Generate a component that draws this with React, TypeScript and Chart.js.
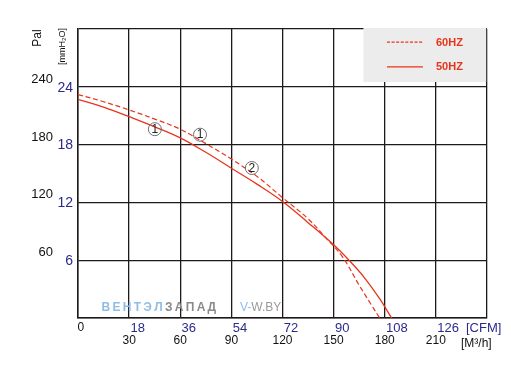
import React, { useEffect, useRef } from "react";
import { Chart, registerables } from "chart.js";

Chart.register(...registerables);

// 50 Hz curve (solid) : airflow m3/h -> pressure Pa
const Q50 = [0, 15, 30, 45, 60, 75, 90, 105, 120, 135, 150, 159, 168, 177, 184];
const P50 = [227, 219, 209, 198.5, 187, 172, 155.5, 139, 121, 99, 76, 60, 42, 20, 0];
// 60 Hz curve (dashed)
const Q60 = [0, 15, 30, 45, 60, 75, 90, 105, 120, 135, 145, 155, 165, 172, 177];
const P60 = [232, 224.5, 216, 206.5, 196, 181, 165, 147, 125, 103, 84, 64, 34, 14, 0];

const M3H_TICKS = [30, 60, 90, 120, 150, 180, 210];
const CFM_TICKS = [18, 36, 54, 72, 90, 108, 126];
const PA_TICKS = [60, 120, 180, 240];
const MMH2O_TICKS = [6, 12, 18, 24];

// circled point markers: [label, m3/h, Pa]
const MARK_LABELS = ["1", "1", "2"];
const MARK_Q = [45.1, 71.6, 102];
const MARK_P = [196, 190.3, 155.7];

const LEGEND_LABELS = ["60HZ", "50HZ"];

const RED = "#e8341c";
const BLUE = "#2b2a8c";
const GRID = "#1e1a1a";
const FONT = "'Liberation Sans', Arial, sans-serif";

const labelsPlugin = {
  id: "customLabels",
  afterDraw(chart: any) {
    const ctx = chart.ctx;
    const xs = chart.scales.x;
    const ys = chart.scales.y;
    const area = chart.chartArea;
    ctx.save();

    // circled markers
    for (let i = 0; i < MARK_LABELS.length; i++) {
      const px = xs.getPixelForValue(MARK_Q[i]);
      const py = ys.getPixelForValue(MARK_P[i]);
      ctx.beginPath();
      ctx.arc(px, py, 6.5, 0, Math.PI * 2);
      ctx.strokeStyle = "#6e6e6e";
      ctx.lineWidth = 1;
      ctx.stroke();
      ctx.fillStyle = "#222";
      ctx.font = `12px ${FONT}`;
      ctx.textAlign = "center";
      ctx.textBaseline = "middle";
      ctx.fillText(MARK_LABELS[i], px, py + 0.5);
    }

    // legend box
    const bx0 = xs.getPixelForValue(167.5);
    const bx1 = area.right - 0.8;
    const by0 = area.top - 1;
    const by1 = ys.getPixelForValue(245);
    ctx.fillStyle = "#ebeceb";
    ctx.fillRect(bx0, by0, bx1 - bx0, by1 - by0);
    const lx0 = bx0 + 23.5;
    const lx1 = bx0 + 59.5;
    const rows = [by0 + 14.2, by0 + 38.8];
    for (let i = 0; i < 2; i++) {
      ctx.beginPath();
      ctx.strokeStyle = RED;
      ctx.lineWidth = 1.2;
      ctx.setLineDash(i === 0 ? [3, 1.6] : []);
      ctx.moveTo(lx0, rows[i]);
      ctx.lineTo(lx1, rows[i]);
      ctx.stroke();
      ctx.setLineDash([]);
      ctx.fillStyle = RED;
      ctx.font = `bold 11px ${FONT}`;
      ctx.textAlign = "left";
      ctx.textBaseline = "middle";
      ctx.fillText(LEGEND_LABELS[i], bx0 + 72.5, rows[i] + 0.5);
    }

    // y tick labels
    for (let i = 0; i < PA_TICKS.length; i++) {
      const py = ys.getPixelForValue(PA_TICKS[i]);
      ctx.fillStyle = "#111";
      ctx.font = `13px ${FONT}`;
      ctx.textAlign = "right";
      ctx.textBaseline = "middle";
      ctx.fillText(String(PA_TICKS[i]), 53, py - 7.5);
      ctx.fillStyle = BLUE;
      ctx.font = `14px ${FONT}`;
      ctx.fillText(String(MMH2O_TICKS[i]), 73, py + 1);
    }

    // y titles
    ctx.save();
    ctx.translate(38, 38);
    ctx.rotate(-Math.PI / 2);
    ctx.fillStyle = "#111";
    ctx.font = `12px ${FONT}`;
    ctx.textAlign = "center";
    ctx.textBaseline = "middle";
    ctx.fillText("Pal", 0, 0);
    ctx.restore();
    ctx.save();
    ctx.translate(62.5, 46.5);
    ctx.rotate(-Math.PI / 2);
    ctx.fillStyle = "#111";
    ctx.font = `9px ${FONT}`;
    ctx.textAlign = "center";
    ctx.textBaseline = "middle";
    ctx.fillText("[mmH₂O]", 0, 0);
    ctx.restore();

    // x labels
    const row1 = area.bottom + 10;
    const row2 = area.bottom + 23;
    ctx.textBaseline = "middle";
    ctx.fillStyle = "#111";
    ctx.font = `12px ${FONT}`;
    ctx.textAlign = "left";
    ctx.fillText("0", xs.getPixelForValue(0) - 0.5, row1);
    for (let i = 0; i < M3H_TICKS.length; i++) {
      const px = xs.getPixelForValue(M3H_TICKS[i]);
      ctx.fillStyle = BLUE;
      ctx.font = `13px ${FONT}`;
      ctx.textAlign = "left";
      ctx.fillText(String(CFM_TICKS[i]), px + 1.3, row1);
      ctx.fillStyle = "#111";
      ctx.font = `12px ${FONT}`;
      ctx.textAlign = "center";
      ctx.fillText(String(M3H_TICKS[i]), px, row2);
    }
    ctx.fillStyle = BLUE;
    ctx.font = `13px ${FONT}`;
    ctx.textAlign = "left";
    ctx.fillText("[CFM]", 466, row1);
    ctx.fillStyle = "#111";
    ctx.font = `12px ${FONT}`;
    ctx.fillText("[M³/h]", 461, row2 + 3);

    // watermark
    ctx.font = `bold 12px ${FONT}`;
    ctx.textAlign = "left";
    const wy = area.bottom - 10.5;
    const word = "ВЕНТЭЛЗАПАД";
    let wx = 101.5;
    for (let i = 0; i < word.length; i++) {
      ctx.fillStyle = i < 6 ? "#8fbde6" : "#8a8a8a";
      ctx.fillText(word[i], wx, wy);
      wx += ctx.measureText(word[i]).width + 2.3;
    }
    ctx.font = `12px ${FONT}`;
    ctx.fillStyle = "#8fbde6";
    ctx.fillText("V-", 240, wy);
    const vw = ctx.measureText("V-").width;
    ctx.fillStyle = "#9a9a9a";
    ctx.fillText("W.BY", 240 + vw, wy);

    ctx.restore();
  },
};

export default function App() {
  const ref = useRef<HTMLCanvasElement>(null);
  useEffect(() => {
    if (!ref.current) return;
    const chart = new Chart(ref.current, {
      type: "line",
      data: {
        datasets: [
          {
            label: "60HZ",
            data: Q60.map((q, i) => ({ x: q, y: P60[i] })),
            borderColor: RED,
            borderWidth: 1.2,
            borderDash: [5, 2.8],
            pointRadius: 0,
            fill: false,
            tension: 0.4,
          },
          {
            label: "50HZ",
            data: Q50.map((q, i) => ({ x: q, y: P50[i] })),
            borderColor: RED,
            borderWidth: 1.3,
            pointRadius: 0,
            fill: false,
            tension: 0.4,
          },
        ],
      },
      options: {
        animation: false,
        responsive: true,
        maintainAspectRatio: false,
        layout: { padding: { left: 78, right: 24, top: 29, bottom: 55 } },
        plugins: { legend: { display: false }, tooltip: { enabled: false } },
        scales: {
          x: {
            type: "linear",
            min: 0,
            max: 240,
            ticks: { display: false, stepSize: 30 },
            grid: { color: GRID, lineWidth: 1.3, drawTicks: false },
            border: { color: GRID, width: 1.5 },
          },
          y: {
            type: "linear",
            min: 0,
            max: 300,
            ticks: { display: false, stepSize: 60 },
            grid: { color: GRID, lineWidth: 1.3, drawTicks: false },
            border: { color: GRID, width: 1.5 },
          },
        },
      },
      plugins: [labelsPlugin],
    });
    return () => chart.destroy();
  }, []);
  return (
    <div style={{ position: "fixed", left: 0, top: 0, width: 511, height: 373, background: "#fff" }}>
      <canvas ref={ref} />
    </div>
  );
}
